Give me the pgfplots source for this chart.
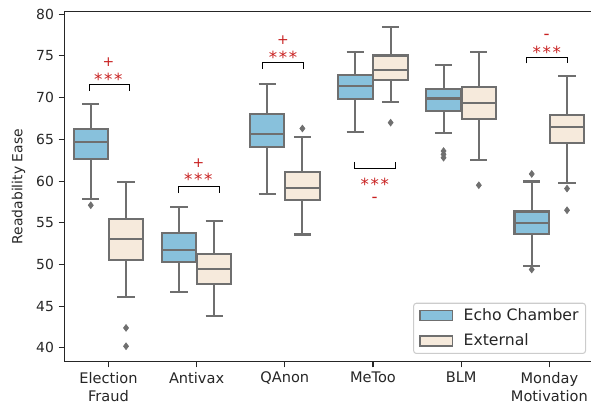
\documentclass[border=0pt]{standalone}
\usepackage{fontspec}
\setmainfont{DejaVu Sans}
\usepackage{pgfplots}
\pgfplotsset{compat=1.18}

\definecolor{echo}{RGB}{136,193,220}
\definecolor{ext}{RGB}{246,234,220}
\definecolor{edgegray}{RGB}{111,111,111}
\definecolor{sigred}{RGB}{200,32,32}
\definecolor{spine}{RGB}{38,38,38}
\definecolor{lgray}{RGB}{204,204,204}

% one box: position, lower whisker, Q1, median, Q3, upper whisker, fill colour
\newcommand{\bx}[7]{%
  \pgfmathsetmacro\boxL{#1-0.195}\pgfmathsetmacro\boxR{#1+0.195}%
  \pgfmathsetmacro\capL{#1-0.098}\pgfmathsetmacro\capR{#1+0.098}%
  \addplot[forget plot, edgegray, line width=1.5pt] coordinates {(#1,#2) (#1,#3)};
  \addplot[forget plot, edgegray, line width=1.5pt] coordinates {(#1,#5) (#1,#6)};
  \addplot[forget plot, edgegray, line width=1.5pt] coordinates {(\capL,#2) (\capR,#2)};
  \addplot[forget plot, edgegray, line width=1.5pt] coordinates {(\capL,#6) (\capR,#6)};
  \addplot[forget plot, draw=edgegray, fill=#7, line width=1.5pt, line join=miter]
    coordinates {(\boxL,#3) (\boxR,#3) (\boxR,#5) (\boxL,#5)} -- cycle;
  \addplot[forget plot, edgegray, line width=1.5pt] coordinates {(\boxL,#4) (\boxR,#4)};
}

\begin{document}
\begin{tikzpicture}
\begin{axis}[
  at={(0,0)}, anchor=south west,
  scale only axis, width=381pt, height=252pt,
  xmin=-0.5, xmax=5.5, ymin=38.35, ymax=80.3,
  xtick={0,1,2,3,4,5},
  xticklabels={Election\\Fraud, Antivax, QAnon, MeToo, BLM, Monday\\Motivation},
  ytick={40,45,...,80},
  xtick pos=left, ytick pos=left,
  tick align=outside, major tick length=4pt,
  tick style={spine, line width=0.8pt},
  axis line style={spine, line width=0.9pt},
  /pgf/number format/assume math mode=true,
  yticklabel style={font=\fontsize{10}{12}\selectfont, text=spine},
  xticklabel style={font=\fontsize{10.5}{13.2}\selectfont, text=spine, align=center},
  ylabel={Readability Ease},
  ylabel style={font=\fontsize{10}{12}\selectfont, text=spine, at={(axis description cs:-0.0866,0.5)}, anchor=center},
  legend cell align=left,
  legend style={at={(axis description cs:0.986,0.022)}, anchor=south east,
    draw=lgray, line width=0.75pt, rounded corners=2pt, fill=white,
    font=\fontsize{11.3}{13}\selectfont, text=spine,
    inner xsep=4pt, inner ysep=3pt, row sep=6pt,
    nodes={inner sep=1pt, anchor=west}},
]
\addlegendimage{legend image code/.code={\draw[sharp corners, draw=edgegray, fill=echo, line width=1pt] (0pt,-3.6pt) rectangle (23.5pt,3.6pt); \path[draw=none, fill=none] (23.5pt,0pt) -- (30.5pt,0pt);}}
\addlegendentry{Echo Chamber}
\addlegendimage{legend image code/.code={\draw[sharp corners, draw=edgegray, fill=ext, line width=1pt] (0pt,-3.6pt) rectangle (23.5pt,3.6pt); \path[draw=none, fill=none] (23.5pt,0pt) -- (30.5pt,0pt);}}
\addlegendentry{External}

% Election Fraud
\bx{-0.2}{57.9}{62.65}{64.7}{66.25}{69.2}{echo}
\bx{0.2}{46.15}{50.5}{53.1}{55.4}{59.9}{ext}
% Antivax
\bx{0.8}{46.75}{50.35}{51.75}{53.75}{56.9}{echo}
\bx{1.2}{43.85}{47.65}{49.45}{51.25}{55.2}{ext}
% QAnon
\bx{1.8}{58.5}{64.1}{65.65}{68.0}{71.65}{echo}
\bx{2.2}{53.6}{57.7}{59.2}{61.1}{65.3}{ext}
% MeToo
\bx{2.8}{65.85}{69.8}{71.35}{72.7}{75.5}{echo}
\bx{3.2}{69.5}{72.1}{73.3}{75.05}{78.5}{ext}
% BLM
\bx{3.8}{65.8}{68.45}{69.9}{71.0}{73.95}{echo}
\bx{4.2}{62.5}{67.45}{69.35}{71.25}{75.5}{ext}
% Monday Motivation
\bx{4.8}{49.85}{53.7}{55.0}{56.35}{59.95}{echo}
\bx{5.2}{59.8}{64.6}{66.5}{67.95}{72.6}{ext}

% outliers
\addplot[forget plot, only marks, mark=diamond*, mark size=2.4pt,
  mark options={draw=edgegray, fill=edgegray, line width=0.5pt}] coordinates {
  (-0.2,57.1) (0.2,42.4) (0.2,40.2)
  (2.2,66.3) (3.2,67.0)
  (3.8,63.6) (3.8,63.2) (3.8,62.8) (4.2,59.5)
  (4.8,60.85) (4.8,49.4) (5.2,59.1) (5.2,56.5)
};

% significance brackets
\addplot[forget plot, black, line width=0.75pt] coordinates {(-0.219,70.85) (-0.219,71.55) (0.238,71.55) (0.238,70.85)};
\addplot[forget plot, black, line width=0.75pt] coordinates {(0.794,58.55) (0.794,59.33) (1.255,59.33) (1.255,58.55)};
\addplot[forget plot, black, line width=0.75pt] coordinates {(1.75,73.45) (1.75,74.25) (2.21,74.25) (2.21,73.45)};
\addplot[forget plot, black, line width=0.75pt] coordinates {(2.789,62.3) (2.789,61.45) (3.254,61.45) (3.254,62.3)};
\addplot[forget plot, black, line width=0.75pt] coordinates {(4.744,74.1) (4.744,74.85) (5.204,74.85) (5.204,74.1)};

\tikzset{sig/.style={anchor=north, inner sep=0pt, text=sigred, font=\fontsize{12}{12}\selectfont},
  sigp/.style={sig, font=\fontsize{10}{10}\selectfont}}
\node[sigp] at (axis cs:0,74.8) {+};
\node[sig] at (axis cs:0,72.94) {*\kern1.2pt*\kern1.2pt*};
\node[sigp] at (axis cs:1.02,62.75) {+};
\node[sig] at (axis cs:1.02,60.94) {*\kern1.2pt*\kern1.2pt*};
\node[sigp] at (axis cs:1.98,77.4) {+};
\node[sig] at (axis cs:1.98,75.6) {*\kern1.2pt*\kern1.2pt*};
\node[sig] at (axis cs:3.02,60.34) {*\kern1.2pt*\kern1.2pt*};
\node[sig] at (axis cs:3.02,58.1) {-};
\node[sig] at (axis cs:4.97,77.6) {-};
\node[sig] at (axis cs:4.97,76.24) {*\kern1.2pt*\kern1.2pt*};
\end{axis}
\pgfresetboundingbox
\useasboundingbox (-46.30pt,-31.90pt) rectangle (379.22pt,260.42pt);
\end{tikzpicture}
\end{document}
